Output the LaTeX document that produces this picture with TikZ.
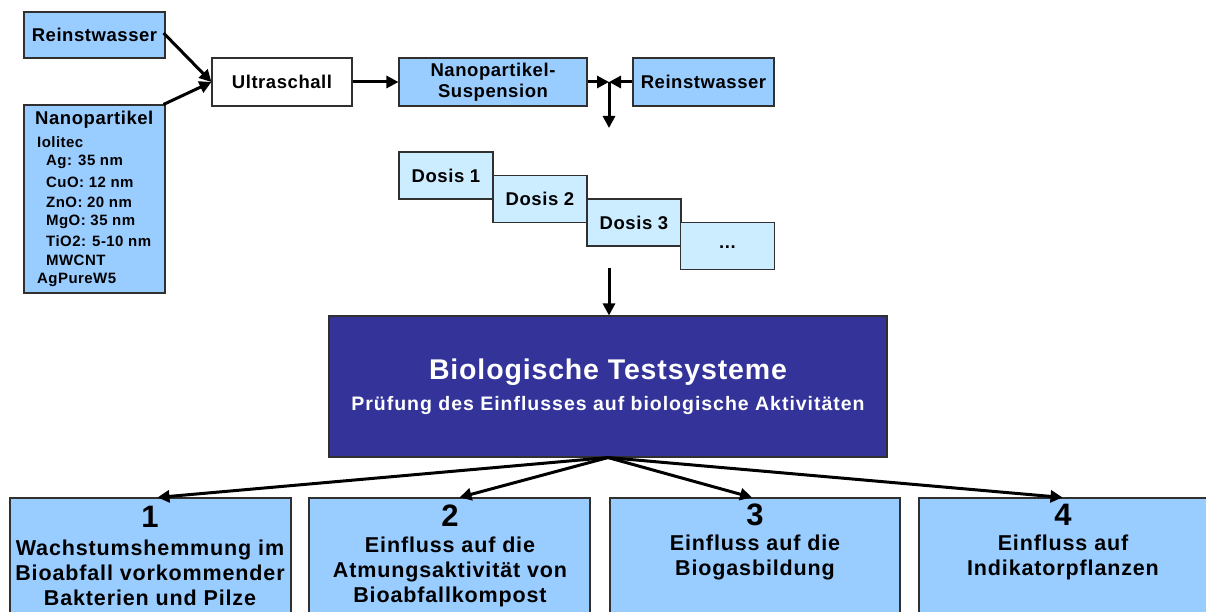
\documentclass[tikz,border=0pt]{standalone}
\usepackage{fontspec}
\setmainfont{Liberation Sans}
\usetikzlibrary{arrows.meta}
\definecolor{boxblue}{HTML}{99CCFF}
\definecolor{dosblue}{HTML}{CCECFF}
\definecolor{darkbox}{HTML}{333399}
\definecolor{edgegray}{HTML}{303030}
\newcommand{\lsp}[1]{\addfontfeatures{LetterSpace=#1}}
\begin{document}
\begin{tikzpicture}[x=1pt,y=-1pt,
  bx/.style={draw=edgegray, line width=1.1pt, fill=boxblue, inner sep=0pt, align=center,
    font=\fontsize{18.5}{21}\selectfont\bfseries\lsp{3}},
  dosbox/.style={bx, fill=dosblue, minimum width=94pt, minimum height=47pt},
  txt/.style={inner sep=0pt, align=center, font=\fontsize{21.5}{25}\selectfont\bfseries\lsp{4}},
  numtxt/.style={inner sep=0pt, font=\fontsize{31}{31}\selectfont\bfseries},
  listtxt/.style={inner sep=0pt, anchor=west, font=\fontsize{15}{18}\selectfont\bfseries\lsp{3}},
  arr/.style={line width=3pt, -{Triangle[length=12pt,width=12pt]}},
]
\useasboundingbox (0,0) rectangle (1206,612);
\clip (0,0) rectangle (1206,612);
\fill[white] (0,0) rectangle (1206,612);

% top row
\node[bx, minimum width=141pt, minimum height=46pt] (rw1) at (94.5,35) {Reinstwasser};
\node[bx, fill=white, minimum width=140pt, minimum height=48pt] (us) at (282,82) {Ultraschall};
\node[bx, minimum width=141pt, minimum height=188pt] (np) at (94.5,199) {};
\node[inner sep=0pt, anchor=west, font=\fontsize{18.5}{21}\selectfont\bfseries\lsp{3}] (npt) at (35,120) {Nanopartikel};
\node[listtxt] (l1) at (37,142) {Iolitec};
\node[listtxt] (l2) at (46,162) {Ag: 35 nm};
\node[listtxt] (l3) at (46,182) {CuO: 12 nm};
\node[listtxt] (l4) at (46,202) {ZnO: 20 nm};
\node[listtxt] (l5) at (46,222) {MgO: 35 nm};
\node[listtxt] (l6) at (46,241) {TiO2: 5-10 nm};
\node[listtxt] (l7) at (46,260) {MWCNT};
\node[listtxt] (l8) at (37,280) {AgPureW5};

\node[bx, minimum width=188pt, minimum height=48pt] (susp) at (493,82) {Nanopartikel-\\Suspension};
\node[bx, minimum width=141pt, minimum height=48pt] (rw2) at (703.5,82) {Reinstwasser};
\coordinate (J) at (609,82);
\coordinate (Jd) at (609,128);

% doses
\node[dosbox] (d1) at (446,175.5) {Dosis 1};
\node[dosbox] (d2) at (540,199) {Dosis 2};
\node[dosbox] (d3) at (634,222.5) {Dosis 3};
\node[dosbox] (d4) at (727.5,246) {\raisebox{-4pt}{...}};
\coordinate (Ds) at (609,268);

% big box
\node[draw=edgegray, line width=1.1pt, fill=darkbox, minimum width=558pt, minimum height=141pt, inner sep=0pt] (big) at (608,386.5) {};
\node[inner sep=0pt, text=white, font=\fontsize{28.5}{30}\selectfont\bfseries\lsp{3}] (bt) at (608,372) {Biologische Testsysteme};
\node[inner sep=0pt, text=white, font=\fontsize{19.5}{22}\selectfont\bfseries\lsp{5}] (bs) at (608,405) {Prüfung des Einflusses auf biologische Aktivitäten};

% bottom boxes
\node[bx, minimum width=281pt, minimum height=132pt] (b1) at (150.5,564) {};
\node[bx, minimum width=281pt, minimum height=132pt] (b2) at (449.5,564) {};
\node[bx, minimum width=290pt, minimum height=132pt] (b3) at (755,564) {};
\node[bx, minimum width=291pt, minimum height=132pt] (b4) at (1064.5,564) {};

\node[numtxt] (n1) at (150,517) {1};
\node[txt] (t1) at (150,573) {Wachstumshemmung im\\Bioabfall vorkommender\\Bakterien und Pilze};
\node[numtxt] (n2) at (450,516) {2};
\node[txt] (t2) at (450,572) {Einfluss auf die\\Atmungsaktivität von\\Bioabfallkompost};
\node[numtxt] (n3) at (755,515) {3};
\node[txt] (t3) at (755,557.5) {Einfluss auf die\\Biogasbildung};
\node[numtxt] (n4) at (1063,515) {4};
\node[txt] (t4) at (1063,557.5) {Einfluss auf\\Indikatorpflanzen};

% arrows
\draw[arr] (rw1.east) ++(-2,-2) -- (us.west);
\draw[arr] (np.north east) ++(-2,0) -- (us.west);
\draw[arr] (us.east) -- (susp.west);
\draw[arr] (susp.east) -- (J);
\draw[arr] (rw2.west) -- (J);
\draw[arr] (J) -- (Jd);
\draw[arr] (Ds) -- (big.north -| Ds);
\draw[arr] (big.south) -- ([xshift=7pt]b1.north);
\draw[arr] (big.south) -- ([xshift=10pt]b2.north);
\draw[arr] (big.south) -- ([xshift=-3pt]b3.north);
\draw[arr] (big.south) -- ([xshift=-2pt]b4.north);
\end{tikzpicture}
\end{document}
